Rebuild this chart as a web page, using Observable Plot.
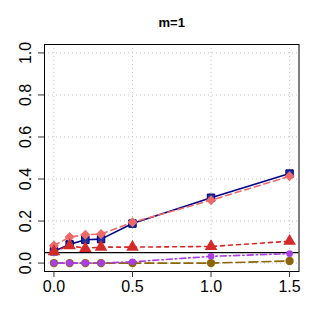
<!DOCTYPE html>
<html><head><meta charset="utf-8">
<script src="https://cdn.jsdelivr.net/npm/d3@7"></script>
<script src="https://cdn.jsdelivr.net/npm/@observablehq/plot@0.6"></script>
<style>body{margin:0;background:#fff;} svg{display:block;}</style>
</head><body><div id="chart"></div>
<script>
const title = "m=1";
const xs = [0, 0.1, 0.2, 0.3, 0.5, 1.0, 1.5];
const navySeries = [0.056, 0.089, 0.111, 0.114, 0.188, 0.311, 0.426];
const salmonSeries = [0.083, 0.124, 0.135, 0.138, 0.194, 0.299, 0.413];
const redSeries = [0.055, 0.083, 0.070, 0.076, 0.076, 0.079, 0.104];
const purpleSeries = [0, 0, 0, 0, 0.006, 0.032, 0.045];
const brownSeries = [0, 0, 0, 0, 0, 0, 0.01];
const refLine = 0.05;
const xTicks = [0, 0.5, 1.0, 1.5];
const yTicks = [0, 0.2, 0.4, 0.6, 0.8, 1.0];

const rows = v => xs.map((x, i) => ({x, y: v[i]}));

const font = "Liberation Sans, Arial, Helvetica, sans-serif";

const chart = Plot.plot({
  width: 321, height: 327,
  marginLeft: 44, marginRight: 22.5, marginTop: 44, marginBottom: 56,
  style: {fontFamily: font, background: "#fff"},
  x: {domain: [-0.06, 1.56]},
  y: {domain: [-0.04, 1.04]},
  marks: [
    Plot.ruleX(xTicks, {x: d => d, stroke: "#c4c4c4", strokeDasharray: "1,3", strokeWidth: 1}),
    Plot.ruleY(yTicks, {y: d => d, stroke: "#c4c4c4", strokeDasharray: "1,3", strokeWidth: 1}),
    Plot.ruleY([refLine], {y: d => d, stroke: "#000", strokeWidth: 1.2}),
    Plot.line(rows(navySeries), {x: "x", y: "y", stroke: "#00008b", strokeWidth: 1.6}),
    Plot.dot(rows(navySeries), {x: "x", y: "y", symbol: "square", r: 4.2, fill: "#1a2ea8", stroke: "#00006e", strokeWidth: 1}),
    Plot.line(rows(salmonSeries), {x: "x", y: "y", stroke: "#ee6a6a", strokeWidth: 1.6, strokeDasharray: "6,4"}),
    Plot.dot(rows(salmonSeries), {x: "x", y: "y", symbol: "diamond2", r: 3.6, fill: "#ee6a6a", stroke: "#ee6a6a"}),
    Plot.line(rows(redSeries), {x: "x", y: "y", stroke: "#d42a2a", strokeWidth: 1.6, strokeDasharray: "4,4"}),
    Plot.dot(rows(redSeries), {x: "x", y: "y", symbol: "triangle", r: 3.7, fill: "#d42a2a", stroke: "#d42a2a"}),
    Plot.line(rows(brownSeries), {x: "x", y: "y", stroke: "#8b6508", strokeWidth: 1.6, strokeDasharray: "9,4"}),
    Plot.dot(rows(brownSeries), {x: "x", y: "y", r: 4.2, fill: "#8b6508"}),
    Plot.line(rows(purpleSeries), {x: "x", y: "y", stroke: "#a93de6", strokeWidth: 1.6, strokeDasharray: "1.5,3,6,3"}),
    Plot.dot(rows(purpleSeries), {x: "x", y: "y", r: 3.3, fill: "#a93de6"}),
    Plot.frame({stroke: "#000", strokeWidth: 1}),
    Plot.axisX({ticks: xTicks, tickSize: 6, tickPadding: 3, fontSize: 16, label: null, tickFormat: d => d.toFixed(1), stroke: "#333"}),
    Plot.axisY({ticks: yTicks, tickSize: 6, label: null, tickFormat: () => "", stroke: "#333"}),
    Plot.text(yTicks, {y: d => d, text: d => d.toFixed(1), frameAnchor: "left", dx: -19, rotate: -90, fontSize: 16, textAnchor: "middle", lineAnchor: "middle", fill: "#000"}),
    Plot.text([title], {text: d => d, frameAnchor: "top", dy: -21.5, fontSize: 13, fontWeight: "bold", lineAnchor: "middle", fill: "#000"})
  ]
});
document.getElementById("chart").appendChild(chart);
</script>
</body></html>
